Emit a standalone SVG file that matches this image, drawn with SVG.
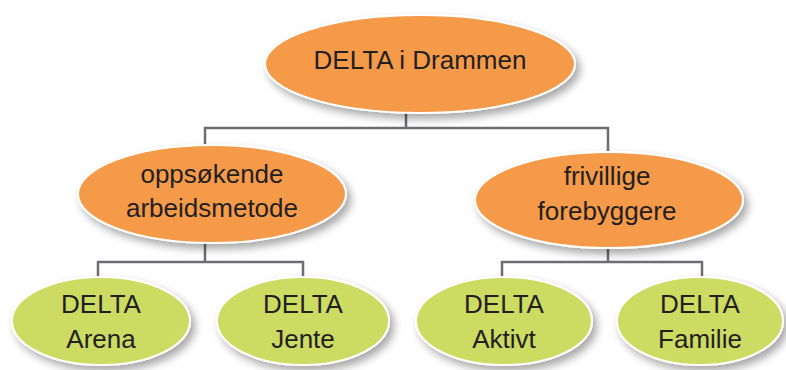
<svg xmlns="http://www.w3.org/2000/svg" width="786" height="370" viewBox="0 0 786 370">
<defs>
<filter id="sh" x="-20%" y="-20%" width="150%" height="160%">
<feDropShadow dx="4" dy="5" stdDeviation="4" flood-color="#000" flood-opacity="0.35"/>
</filter>
<style>
.o{fill:#F59A4A;stroke:#fff;stroke-width:2;filter:url(#sh)}
.g{fill:#CCDB62;stroke:#fff;stroke-width:2;filter:url(#sh)}
.c{fill:none;stroke:#6D6E71;stroke-width:2.5}
text{font-family:"Liberation Sans",Arial,sans-serif;fill:#231F20;text-anchor:middle;font-size:26px}
</style>
</defs>
<rect width="786" height="370" fill="#fff"/>
<g id="connectors">
<path class="c" d="M406 112 V128 M205 145 V128 H608 V152"/>
<path class="c" d="M205 243 V262 M98 277 V262 H303 V277"/>
<path class="c" d="M608 247 V262 M502 277 V262 H702 V277"/>
</g>
<g id="root">
<ellipse class="o" cx="420" cy="64" rx="155" ry="49"/>
<text x="420" y="69">DELTA i Drammen</text>
</g>
<g id="oppsokende">
<ellipse class="o" cx="212" cy="194" rx="134" ry="49"/>
<text x="212" y="183">oppsøkende</text>
<text x="212" y="217">arbeidsmetode</text>
</g>
<g id="frivillige">
<ellipse class="o" cx="609" cy="200" rx="134" ry="48"/>
<text x="607" y="185">frivillige</text>
<text x="607" y="220">forebyggere</text>
</g>
<g id="arena">
<ellipse class="g" cx="101" cy="321" rx="89" ry="44"/>
<text x="101" y="313">DELTA</text>
<text x="101" y="348">Arena</text>
</g>
<g id="jente">
<ellipse class="g" cx="303" cy="321" rx="86" ry="44"/>
<text x="303" y="313">DELTA</text>
<text x="303" y="348">Jente</text>
</g>
<g id="aktivt">
<ellipse class="g" cx="504" cy="321" rx="88" ry="44"/>
<text x="504" y="313">DELTA</text>
<text x="504" y="348">Aktivt</text>
</g>
<g id="familie">
<ellipse class="g" cx="700" cy="321" rx="83" ry="44"/>
<text x="700" y="313">DELTA</text>
<text x="700" y="348">Familie</text>
</g>
</svg>
